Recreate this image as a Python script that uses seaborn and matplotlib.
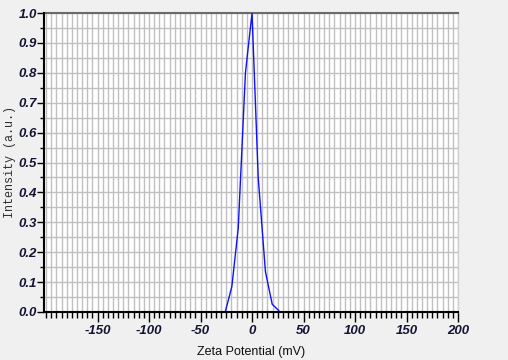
import matplotlib
matplotlib.use("Agg")
import matplotlib.pyplot as plt
import seaborn as sns
import pandas as pd
import numpy as np
from matplotlib.ticker import MultipleLocator, FixedLocator

# Data
zeta_mv = [-25.8, -19.6, -13.4, -6.4, 0.0, 6.0, 13.0, 19.6, 26.2]
intensity = [0.003, 0.085, 0.28, 0.80, 1.0, 0.45, 0.135, 0.026, 0.004]
x_tick_values = [-150, -100, -50, 0, 50, 100, 150, 200]
y_tick_values = [0.0, 0.1, 0.2, 0.3, 0.4, 0.5, 0.6, 0.7, 0.8, 0.9, 1.0]

df = pd.DataFrame({"zeta": zeta_mv, "intensity": intensity})

sns.set_style("white")
plt.rcParams['font.family'] = ['Liberation Sans', 'DejaVu Sans']

fig = plt.figure(figsize=(5.08, 3.6), dpi=100, facecolor="#f0f0f0")
ax = fig.add_axes([44/508, 1-312/360, (458-44)/508, (312-13)/360])
ax.set_facecolor("white")

sns.lineplot(data=df, x="zeta", y="intensity", ax=ax, color="#1010ff",
             linewidth=1.0, sort=False, estimator=None, zorder=3)

ax.set_xlim(-202, 200)
ax.set_ylim(0, 1.0)

ax.xaxis.set_minor_locator(MultipleLocator(5))
ax.yaxis.set_minor_locator(MultipleLocator(0.05))
ax.xaxis.set_major_locator(FixedLocator(x_tick_values))
ax.yaxis.set_major_locator(FixedLocator(y_tick_values))
ax.set_xticklabels([str(v) for v in x_tick_values])
ax.set_yticklabels([f"{v:.1f}" for v in y_tick_values])

ax.grid(True, which="both", color="#c0c0c0", linewidth=1.0, zorder=0)
ax.set_axisbelow(True)

label_color = "#141434"
ax.tick_params(axis="x", which="major", direction="out", length=7, width=1,
               color="black", labelsize=9.5, labelcolor=label_color, pad=2, bottom=True)
ax.tick_params(axis="x", which="minor", direction="out", length=4, width=1,
               color="black", bottom=True)
ax.tick_params(axis="y", which="major", direction="out", length=5, width=1,
               color="black", labelsize=9.5, labelcolor=label_color, pad=0, left=True)
ax.tick_params(axis="y", which="minor", direction="out", length=3, width=1,
               color="black", left=True)
for lab in ax.get_xticklabels() + ax.get_yticklabels():
    lab.set_fontweight("bold")
    lab.set_fontstyle("italic")

for side in ["left", "bottom"]:
    ax.spines[side].set_color("black")
    ax.spines[side].set_linewidth(1.5)
    ax.spines[side].set_zorder(5)
ax.spines["top"].set_color("#6a6a6a")
ax.spines["top"].set_linewidth(1.5)
ax.spines["right"].set_color("#d0d0d0")
ax.spines["right"].set_linewidth(1.0)

ax.set_xlabel("Zeta Potential (mV)", fontsize=9, color="#101010", labelpad=7)
ax.set_ylabel("Intensity (a.u.)", fontsize=8.5, color="#303030",
              family=["Liberation Mono", "DejaVu Sans Mono"], labelpad=2)

fig.savefig("out.png", dpi=100, facecolor=fig.get_facecolor())
